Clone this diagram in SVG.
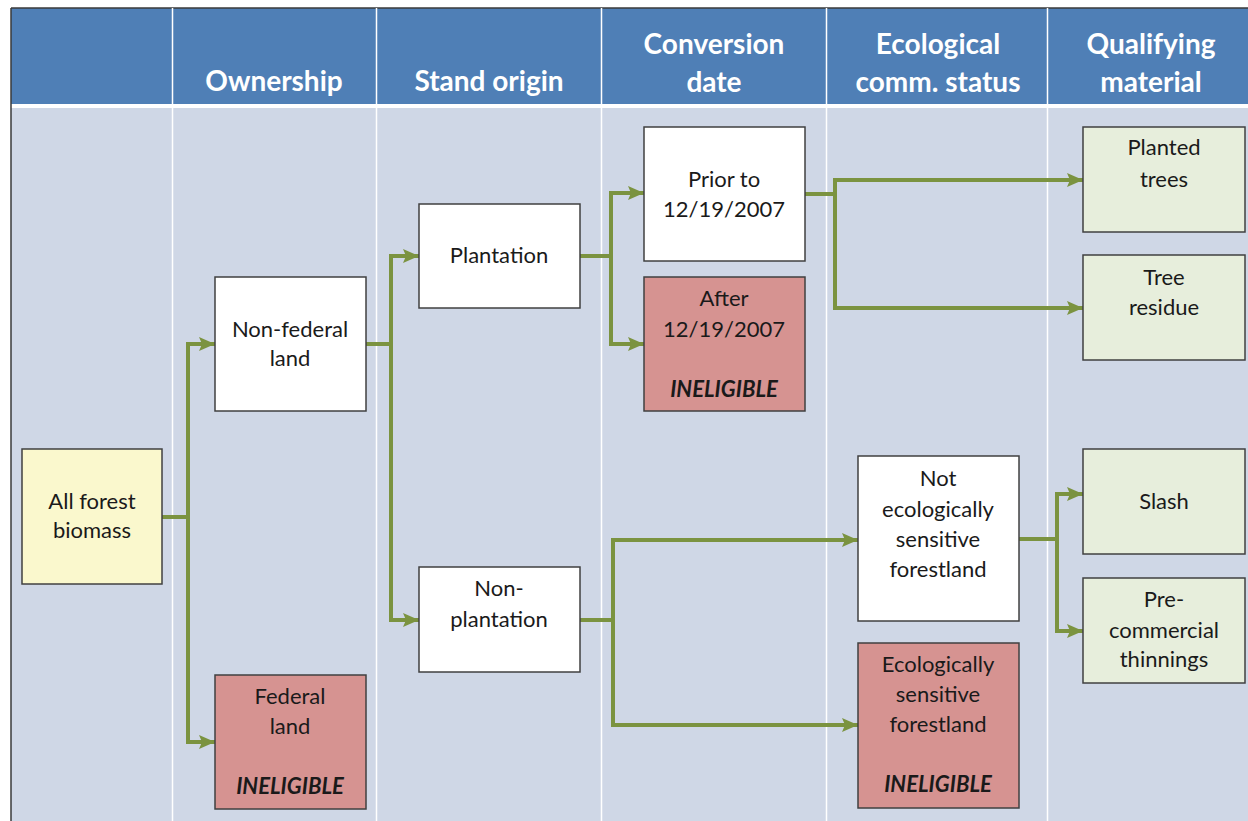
<svg xmlns="http://www.w3.org/2000/svg" width="1248" height="821" viewBox="0 0 1248 821">
<defs>
<style>
.hdr{font-family:Lato,"Liberation Sans",sans-serif;font-weight:bold;font-size:28px;fill:#ffffff;text-anchor:middle}
.t{font-family:Lato,"Liberation Sans",sans-serif;font-size:22px;fill:#1a1a1a;text-anchor:middle}
.inel{font-family:Lato,"Liberation Sans",sans-serif;font-size:22px;font-weight:bold;font-style:italic;fill:#1a1a1a;text-anchor:middle}
.box{stroke:#404040;stroke-width:1.5}
.white{fill:#ffffff}
.red{fill:#d69391}
.yel{fill:#faf8cd}
.grn{fill:#e7eedc}
.c{fill:none;stroke:#7b9340;stroke-width:4;stroke-linejoin:miter}
.sep{stroke:#ffffff;stroke-width:1.5}
</style>
<marker id="ah" markerUnits="userSpaceOnUse" markerWidth="16" markerHeight="14" refX="16" refY="7" orient="auto">
<path d="M0,0 L16,7 L0,14 L3,7 Z" fill="#7b9340"/>
</marker>
</defs>
<rect x="0" y="0" width="1248" height="821" fill="#ffffff"/>
<g id="table">
<rect x="11" y="8" width="1237" height="96" fill="#4f7fb6"/>
<rect x="11" y="108" width="1237" height="713" fill="#cfd7e6"/>
<line x1="11" y1="8" x2="1248" y2="8" stroke="#3a3a3a" stroke-width="1.5"/>
<line x1="11" y1="8" x2="11" y2="821" stroke="#3a3a3a" stroke-width="1.5"/>
<line class="sep" x1="172.5" y1="8" x2="172.5" y2="821"/>
<line class="sep" x1="376.5" y1="8" x2="376.5" y2="821"/>
<line class="sep" x1="601.5" y1="8" x2="601.5" y2="821"/>
<line class="sep" x1="826.5" y1="8" x2="826.5" y2="821"/>
<line class="sep" x1="1047.5" y1="8" x2="1047.5" y2="821"/>
<text class="hdr" x="274" y="91">Ownership</text>
<text class="hdr" x="489" y="91">Stand origin</text>
<text class="hdr" x="714" y="54">Conversion</text>
<text class="hdr" x="714" y="92">date</text>
<text class="hdr" x="938" y="54">Ecological</text>
<text class="hdr" x="938" y="92">comm. status</text>
<text class="hdr" x="1151" y="54">Qualifying</text>
<text class="hdr" x="1151" y="92">material</text>
</g>
<g id="connectors">
<path class="c" d="M162,517 H188"/>
<path class="c" d="M188,517 V344 H215" marker-end="url(#ah)"/>
<path class="c" d="M188,517 V742 H215" marker-end="url(#ah)"/>
<path class="c" d="M366,344 H391"/>
<path class="c" d="M391,344 V256 H419" marker-end="url(#ah)"/>
<path class="c" d="M391,344 V620 H419" marker-end="url(#ah)"/>
<path class="c" d="M580,256 H611"/>
<path class="c" d="M611,256 V193 H644" marker-end="url(#ah)"/>
<path class="c" d="M611,256 V344 H644" marker-end="url(#ah)"/>
<path class="c" d="M805,194 H835"/>
<path class="c" d="M835,194 V180 H1083" marker-end="url(#ah)"/>
<path class="c" d="M835,194 V308 H1083" marker-end="url(#ah)"/>
<path class="c" d="M580,620 H613"/>
<path class="c" d="M613,620 V540 H858" marker-end="url(#ah)"/>
<path class="c" d="M613,620 V725 H858" marker-end="url(#ah)"/>
<path class="c" d="M1019,539 H1057"/>
<path class="c" d="M1057,539 V494 H1083" marker-end="url(#ah)"/>
<path class="c" d="M1057,539 V631 H1083" marker-end="url(#ah)"/>
</g>
<g id="n-all">
<rect class="box yel" x="22" y="449" width="140" height="135"/>
<text class="t" x="92" y="509">All forest</text>
<text class="t" x="92" y="538">biomass</text>
</g>
<g id="n-nonfederal">
<rect class="box white" x="215" y="277" width="151" height="134"/>
<text class="t" x="290" y="337">Non-federal</text>
<text class="t" x="290" y="366">land</text>
</g>
<g id="n-federal">
<rect class="box red" x="215" y="675" width="151" height="134"/>
<text class="t" x="290" y="704">Federal</text>
<text class="t" x="290" y="734">land</text>
<text class="inel" x="290" y="794">INELIGIBLE</text>
</g>
<g id="n-plantation">
<rect class="box white" x="419" y="204" width="161" height="104"/>
<text class="t" x="499" y="263">Plantation</text>
</g>
<g id="n-nonplantation">
<rect class="box white" x="419" y="567" width="161" height="105"/>
<text class="t" x="499" y="596">Non-</text>
<text class="t" x="499" y="627">plantation</text>
</g>
<g id="n-prior">
<rect class="box white" x="644" y="127" width="161" height="134"/>
<text class="t" x="724" y="187">Prior to</text>
<text class="t" x="724" y="217">12/19/2007</text>
</g>
<g id="n-after">
<rect class="box red" x="644" y="277" width="161" height="134"/>
<text class="t" x="724" y="306">After</text>
<text class="t" x="724" y="337">12/19/2007</text>
<text class="inel" x="724" y="397">INELIGIBLE</text>
</g>
<g id="n-noteco">
<rect class="box white" x="858" y="456" width="161" height="165"/>
<text class="t" x="938" y="486">Not</text>
<text class="t" x="938" y="517">ecologically</text>
<text class="t" x="938" y="547">sensitive</text>
<text class="t" x="938" y="577">forestland</text>
</g>
<g id="n-eco">
<rect class="box red" x="858" y="643" width="161" height="165"/>
<text class="t" x="938" y="672">Ecologically</text>
<text class="t" x="938" y="702">sensitive</text>
<text class="t" x="938" y="732">forestland</text>
<text class="inel" x="938" y="792">INELIGIBLE</text>
</g>
<g id="n-planted">
<rect class="box grn" x="1083" y="127" width="162" height="105"/>
<text class="t" x="1164" y="155">Planted</text>
<text class="t" x="1164" y="187">trees</text>
</g>
<g id="n-residue">
<rect class="box grn" x="1083" y="255" width="162" height="105"/>
<text class="t" x="1164" y="285">Tree</text>
<text class="t" x="1164" y="315">residue</text>
</g>
<g id="n-slash">
<rect class="box grn" x="1083" y="449" width="162" height="105"/>
<text class="t" x="1164" y="509">Slash</text>
</g>
<g id="n-precomm">
<rect class="box grn" x="1083" y="578" width="162" height="105"/>
<text class="t" x="1164" y="607">Pre-</text>
<text class="t" x="1164" y="638">commercial</text>
<text class="t" x="1164" y="667">thinnings</text>
</g>
</svg>
